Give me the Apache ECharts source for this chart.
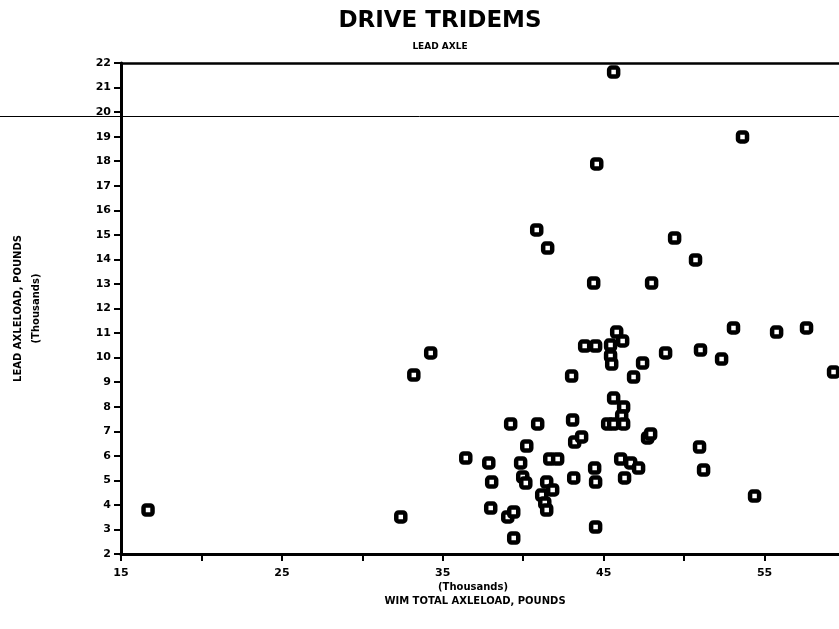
<!DOCTYPE html>
<html>
<head>
<meta charset="utf-8">
<script src="https://cdn.jsdelivr.net/npm/echarts@6/dist/echarts.min.js"></script>
<style>html,body{margin:0;padding:0;background:#fff}#c{width:839px;height:629px}</style>
</head>
<body>
<div id="c"></div>
<script>
const titleText = 'DRIVE TRIDEMS';
const subtitleText = 'LEAD AXLE';
const xNameLines = ['(Thousands)', 'WIM TOTAL AXLELOAD, POUNDS'];
const yNameLines = ['LEAD AXLELOAD, POUNDS', '(Thousands)'];
const xMin = 15, xMax = 60, xStep = 5, xLabelStep = 10;
const yMin = 2, yMax = 22, yStep = 1;

// WIM total axleload (thousands of pounds)
const totalLoad = [
  16.68, 32.39, 33.20, 34.25, 36.43, 37.86, 38.04, 37.98, 39.04, 39.41,
  39.41, 39.22, 39.84, 39.97, 40.16, 40.22, 40.84, 40.90, 41.15, 41.52,
  41.34, 41.46, 41.46, 41.83, 41.65, 42.14, 43.01, 43.07, 43.20, 43.63,
  43.14, 43.82, 44.50, 44.38, 44.57, 44.44, 44.50, 44.50, 45.62, 45.81,
  46.18, 45.43, 45.43, 45.50, 45.62, 46.24, 46.12, 46.24, 45.25, 45.62,
  46.06, 46.68, 47.17, 46.30, 46.86, 47.42, 48.85, 47.98, 47.73, 47.92,
  49.41, 50.71, 51.02, 52.33, 53.07, 55.75, 57.61, 59.29, 53.63, 50.96,
  51.21, 54.38
];
// Lead axleload (thousands of pounds)
const leadLoad = [
  3.79, 3.51, 9.29, 10.19, 5.91, 5.71, 4.93, 3.87, 3.51, 3.71,
  2.65, 7.30, 5.71, 5.14, 4.89, 6.40, 15.20, 7.30, 4.40, 14.46,
  4.08, 3.79, 4.93, 4.61, 5.87, 5.87, 9.25, 7.46, 6.56, 6.77,
  5.10, 10.47, 10.47, 13.04, 17.89, 5.50, 4.93, 3.10, 21.63, 11.04,
  10.68, 10.51, 10.07, 9.74, 8.35, 7.99, 7.62, 7.30, 7.30, 7.30,
  5.87, 5.71, 5.50, 5.10, 9.21, 9.78, 10.19, 13.04, 6.73, 6.89,
  14.87, 13.98, 10.31, 9.94, 11.21, 11.04, 11.21, 9.41, 18.99, 6.36,
  5.42, 4.36
];

const points = totalLoad.map((x, i) => [x, leadLoad[i]]);
const font = 'DejaVu Sans';

const chart = echarts.init(document.getElementById('c'), null, {renderer: 'canvas'});
chart.setOption({
  animation: false,
  backgroundColor: '#fff',
  title: [
    {text: titleText, left: 435, top: 5, textAlign: 'center',
     textStyle: {fontFamily: 'DejaVu Sans', fontSize: 23, fontWeight: 'bold', color: '#000'}},
    {text: subtitleText, left: 435, top: 37, textAlign: 'center',
     textStyle: {fontFamily: font, fontSize: 9, fontWeight: 'bold', color: '#000'}},
    {text: xNameLines[0], left: 468, top: 577, textAlign: 'center',
     textStyle: {fontFamily: font, fontSize: 10, fontWeight: 'bold', color: '#000'}},
    {text: xNameLines[1], left: 470, top: 591, textAlign: 'center',
     textStyle: {fontFamily: font, fontSize: 10, fontWeight: 'bold', color: '#000'}}
  ],
  grid: {left: 121, top: 63, width: 724, height: 491, outerBoundsMode: 'none', containLabel: false},
  xAxis: [{
    type: 'value', min: xMin, max: xMax, interval: xStep,
    position: 'bottom',
    splitLine: {show: false},
    axisLine: {lineStyle: {color: '#000', width: 3}},
    axisTick: {length: 7, lineStyle: {color: '#000', width: 2}},
    axisLabel: {
      color: '#000', fontFamily: font, fontWeight: 'bold', fontSize: 11, margin: 14,
      formatter: v => ((v - xMin) % xLabelStep === 0 && v < xMax) ? String(v) : ''
    }
  }, {
    type: 'value', min: xMin, max: xMax, position: 'top',
    splitLine: {show: false},
    axisLine: {show: true, lineStyle: {color: '#000', width: 2.5}},
    axisTick: {show: false}, axisLabel: {show: false}
  }],
  yAxis: {
    type: 'value', min: yMin, max: yMax, interval: yStep,
    name: yNameLines.join('\n'),
    nameLocation: 'middle', nameRotate: 90, nameGap: 76,
    nameTextStyle: {color: '#000', fontFamily: font, fontWeight: 'bold', fontSize: 10, lineHeight: 18},
    splitLine: {show: false},
    axisLine: {lineStyle: {color: '#000', width: 3}},
    axisTick: {length: 7, lineStyle: {color: '#000', width: 2}},
    axisLabel: {color: '#000', fontFamily: font, fontWeight: 'bold', fontSize: 11, margin: 10}
  },
  graphic: [{
    type: 'line', silent: true,
    shape: {x1: 0, y1: 116.5, x2: 839, y2: 116.5},
    style: {stroke: '#000', lineWidth: 1}
  }],
  series: [{
    type: 'scatter',
    data: points,
    symbol: 'roundRect',
    symbolSize: 9,
    itemStyle: {color: '#fff', borderColor: '#000', borderWidth: 4.5, opacity: 1}
  }]
});
</script>
</body>
</html>
